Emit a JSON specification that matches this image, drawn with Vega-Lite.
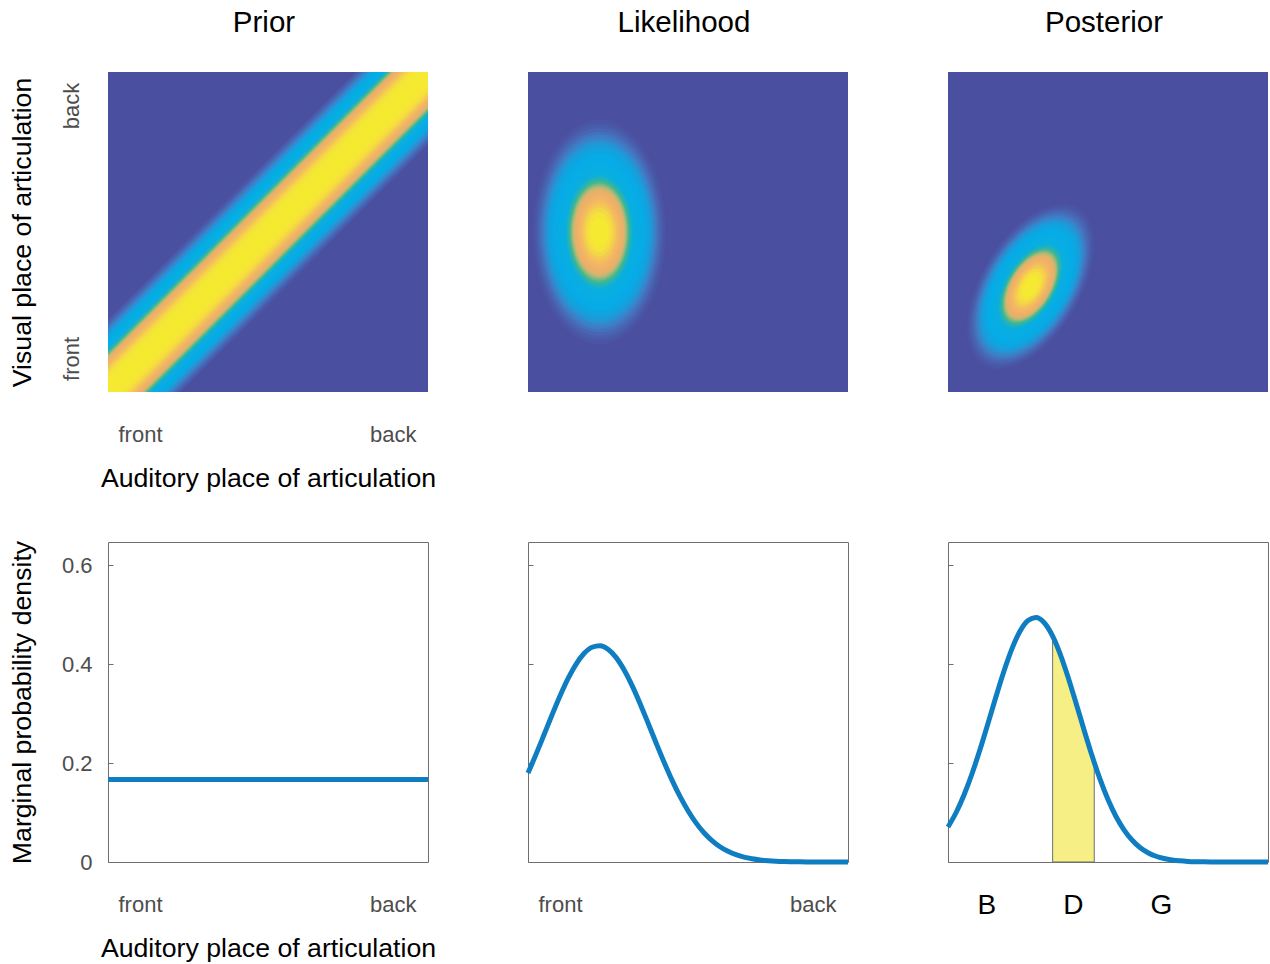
{
  "$schema": "https://vega.github.io/schema/vega-lite/v6.json",
  "background": "white",
  "padding": {"left": 8, "top": 7, "right": 0, "bottom": 0},
  "columns": 3,
  "spacing": {"row": 150, "column": 100},
  "bounds": "flush",
  "datasets": {
    "prior2d": [
      {"v": 0.045, "x": 0, "lo": -0.2375, "hi": 0.2375}, {"v": 0.045, "x": 1, "lo": 0.7625, "hi": 1.2375},
      {"v": 0.055, "x": 0, "lo": -0.231, "hi": 0.231}, {"v": 0.055, "x": 1, "lo": 0.769, "hi": 1.231},
      {"v": 0.065, "x": 0, "lo": -0.225, "hi": 0.225}, {"v": 0.065, "x": 1, "lo": 0.775, "hi": 1.225},
      {"v": 0.075, "x": 0, "lo": -0.22, "hi": 0.22}, {"v": 0.075, "x": 1, "lo": 0.78, "hi": 1.22},
      {"v": 0.085, "x": 0, "lo": -0.2155, "hi": 0.2155}, {"v": 0.085, "x": 1, "lo": 0.7845, "hi": 1.2155},
      {"v": 0.1, "x": 0, "lo": -0.209, "hi": 0.209}, {"v": 0.1, "x": 1, "lo": 0.791, "hi": 1.209},
      {"v": 0.115, "x": 0, "lo": -0.203, "hi": 0.203}, {"v": 0.115, "x": 1, "lo": 0.797, "hi": 1.203},
      {"v": 0.13, "x": 0, "lo": -0.197, "hi": 0.197}, {"v": 0.13, "x": 1, "lo": 0.803, "hi": 1.197},
      {"v": 0.15, "x": 0, "lo": -0.191, "hi": 0.191}, {"v": 0.15, "x": 1, "lo": 0.809, "hi": 1.191},
      {"v": 0.17, "x": 0, "lo": -0.185, "hi": 0.185}, {"v": 0.17, "x": 1, "lo": 0.815, "hi": 1.185},
      {"v": 0.19, "x": 0, "lo": -0.1805, "hi": 0.1805}, {"v": 0.19, "x": 1, "lo": 0.8195, "hi": 1.1805},
      {"v": 0.22, "x": 0, "lo": -0.174, "hi": 0.174}, {"v": 0.22, "x": 1, "lo": 0.826, "hi": 1.174},
      {"v": 0.25, "x": 0, "lo": -0.167, "hi": 0.167}, {"v": 0.25, "x": 1, "lo": 0.833, "hi": 1.167},
      {"v": 0.29, "x": 0, "lo": -0.16, "hi": 0.16}, {"v": 0.29, "x": 1, "lo": 0.84, "hi": 1.16},
      {"v": 0.33, "x": 0, "lo": -0.153, "hi": 0.153}, {"v": 0.33, "x": 1, "lo": 0.847, "hi": 1.153},
      {"v": 0.37, "x": 0, "lo": -0.1475, "hi": 0.1475}, {"v": 0.37, "x": 1, "lo": 0.8525, "hi": 1.1475},
      {"v": 0.41, "x": 0, "lo": -0.1425, "hi": 0.1425}, {"v": 0.41, "x": 1, "lo": 0.8575, "hi": 1.1425},
      {"v": 0.45, "x": 0, "lo": -0.1375, "hi": 0.1375}, {"v": 0.45, "x": 1, "lo": 0.8625, "hi": 1.1375},
      {"v": 0.49, "x": 0, "lo": -0.1325, "hi": 0.1325}, {"v": 0.49, "x": 1, "lo": 0.8675, "hi": 1.1325},
      {"v": 0.52, "x": 0, "lo": -0.129, "hi": 0.129}, {"v": 0.52, "x": 1, "lo": 0.871, "hi": 1.129},
      {"v": 0.55, "x": 0, "lo": -0.125, "hi": 0.125}, {"v": 0.55, "x": 1, "lo": 0.875, "hi": 1.125},
      {"v": 0.58, "x": 0, "lo": -0.12, "hi": 0.12}, {"v": 0.58, "x": 1, "lo": 0.88, "hi": 1.12},
      {"v": 0.61, "x": 0, "lo": -0.1155, "hi": 0.1155}, {"v": 0.61, "x": 1, "lo": 0.8845, "hi": 1.1155},
      {"v": 0.64, "x": 0, "lo": -0.111, "hi": 0.111}, {"v": 0.64, "x": 1, "lo": 0.889, "hi": 1.111},
      {"v": 0.67, "x": 0, "lo": -0.106, "hi": 0.106}, {"v": 0.67, "x": 1, "lo": 0.894, "hi": 1.106},
      {"v": 0.71, "x": 0, "lo": -0.1, "hi": 0.1}, {"v": 0.71, "x": 1, "lo": 0.9, "hi": 1.1},
      {"v": 0.75, "x": 0, "lo": -0.094, "hi": 0.094}, {"v": 0.75, "x": 1, "lo": 0.906, "hi": 1.094},
      {"v": 0.79, "x": 0, "lo": -0.086, "hi": 0.086}, {"v": 0.79, "x": 1, "lo": 0.914, "hi": 1.086},
      {"v": 0.83, "x": 0, "lo": -0.079, "hi": 0.079}, {"v": 0.83, "x": 1, "lo": 0.921, "hi": 1.079},
      {"v": 0.87, "x": 0, "lo": -0.07, "hi": 0.07}, {"v": 0.87, "x": 1, "lo": 0.93, "hi": 1.07},
      {"v": 0.91, "x": 0, "lo": -0.059, "hi": 0.059}, {"v": 0.91, "x": 1, "lo": 0.941, "hi": 1.059},
      {"v": 0.95, "x": 0, "lo": -0.044, "hi": 0.044}, {"v": 0.95, "x": 1, "lo": 0.956, "hi": 1.044}
    ],
    "like2d": [
      {"v": 0.045, "cx": 0.223, "cy": 0.5, "r": 0.3636},
      {"v": 0.055, "cx": 0.223, "cy": 0.5, "r": 0.3516},
      {"v": 0.065, "cx": 0.223, "cy": 0.5, "r": 0.3414},
      {"v": 0.075, "cx": 0.223, "cy": 0.5, "r": 0.3323},
      {"v": 0.085, "cx": 0.223, "cy": 0.5, "r": 0.3242},
      {"v": 0.1, "cx": 0.223, "cy": 0.5, "r": 0.3133},
      {"v": 0.115, "cx": 0.223, "cy": 0.5, "r": 0.3037},
      {"v": 0.13, "cx": 0.223, "cy": 0.5, "r": 0.2949},
      {"v": 0.15, "cx": 0.223, "cy": 0.5, "r": 0.2844},
      {"v": 0.17, "cx": 0.223, "cy": 0.5, "r": 0.2749},
      {"v": 0.19, "cx": 0.223, "cy": 0.5, "r": 0.2661},
      {"v": 0.22, "cx": 0.223, "cy": 0.5, "r": 0.2541},
      {"v": 0.25, "cx": 0.223, "cy": 0.5, "r": 0.2431},
      {"v": 0.29, "cx": 0.223, "cy": 0.5, "r": 0.2297},
      {"v": 0.33, "cx": 0.223, "cy": 0.5, "r": 0.2174},
      {"v": 0.37, "cx": 0.223, "cy": 0.5, "r": 0.2059},
      {"v": 0.41, "cx": 0.223, "cy": 0.5, "r": 0.195},
      {"v": 0.45, "cx": 0.223, "cy": 0.5, "r": 0.1845},
      {"v": 0.49, "cx": 0.223, "cy": 0.5, "r": 0.1744},
      {"v": 0.52, "cx": 0.223, "cy": 0.5, "r": 0.167},
      {"v": 0.55, "cx": 0.223, "cy": 0.5, "r": 0.1597},
      {"v": 0.58, "cx": 0.223, "cy": 0.5, "r": 0.1524},
      {"v": 0.61, "cx": 0.223, "cy": 0.5, "r": 0.1452},
      {"v": 0.64, "cx": 0.223, "cy": 0.5, "r": 0.1379},
      {"v": 0.67, "cx": 0.223, "cy": 0.5, "r": 0.1307},
      {"v": 0.71, "cx": 0.223, "cy": 0.5, "r": 0.1208},
      {"v": 0.75, "cx": 0.223, "cy": 0.5, "r": 0.1107},
      {"v": 0.79, "cx": 0.223, "cy": 0.5, "r": 0.1002},
      {"v": 0.83, "cx": 0.223, "cy": 0.5, "r": 0.0891},
      {"v": 0.87, "cx": 0.223, "cy": 0.5, "r": 0.077},
      {"v": 0.91, "cx": 0.223, "cy": 0.5, "r": 0.0634},
      {"v": 0.95, "cx": 0.223, "cy": 0.5, "r": 0.0468}
    ],
    "post2d": [
      {"v": 0.045, "cx": 0.258, "cy": 0.33, "r": 0.2964},
      {"v": 0.055, "cx": 0.258, "cy": 0.33, "r": 0.2866},
      {"v": 0.065, "cx": 0.258, "cy": 0.33, "r": 0.2782},
      {"v": 0.075, "cx": 0.258, "cy": 0.33, "r": 0.2709},
      {"v": 0.085, "cx": 0.258, "cy": 0.33, "r": 0.2642},
      {"v": 0.1, "cx": 0.258, "cy": 0.33, "r": 0.2554},
      {"v": 0.115, "cx": 0.258, "cy": 0.33, "r": 0.2475},
      {"v": 0.13, "cx": 0.258, "cy": 0.33, "r": 0.2404},
      {"v": 0.15, "cx": 0.258, "cy": 0.33, "r": 0.2318},
      {"v": 0.17, "cx": 0.258, "cy": 0.33, "r": 0.224},
      {"v": 0.19, "cx": 0.258, "cy": 0.33, "r": 0.2169},
      {"v": 0.22, "cx": 0.258, "cy": 0.33, "r": 0.2071},
      {"v": 0.25, "cx": 0.258, "cy": 0.33, "r": 0.1981},
      {"v": 0.29, "cx": 0.258, "cy": 0.33, "r": 0.1872},
      {"v": 0.33, "cx": 0.258, "cy": 0.33, "r": 0.1772},
      {"v": 0.37, "cx": 0.258, "cy": 0.33, "r": 0.1678},
      {"v": 0.41, "cx": 0.258, "cy": 0.33, "r": 0.1589},
      {"v": 0.45, "cx": 0.258, "cy": 0.33, "r": 0.1504},
      {"v": 0.49, "cx": 0.258, "cy": 0.33, "r": 0.1421},
      {"v": 0.52, "cx": 0.258, "cy": 0.33, "r": 0.1361},
      {"v": 0.55, "cx": 0.258, "cy": 0.33, "r": 0.1301},
      {"v": 0.58, "cx": 0.258, "cy": 0.33, "r": 0.1242},
      {"v": 0.61, "cx": 0.258, "cy": 0.33, "r": 0.1183},
      {"v": 0.64, "cx": 0.258, "cy": 0.33, "r": 0.1124},
      {"v": 0.67, "cx": 0.258, "cy": 0.33, "r": 0.1065},
      {"v": 0.71, "cx": 0.258, "cy": 0.33, "r": 0.0985},
      {"v": 0.75, "cx": 0.258, "cy": 0.33, "r": 0.0903},
      {"v": 0.79, "cx": 0.258, "cy": 0.33, "r": 0.0817},
      {"v": 0.83, "cx": 0.258, "cy": 0.33, "r": 0.0726},
      {"v": 0.87, "cx": 0.258, "cy": 0.33, "r": 0.0628},
      {"v": 0.91, "cx": 0.258, "cy": 0.33, "r": 0.0517},
      {"v": 0.95, "cx": 0.258, "cy": 0.33, "r": 0.0381}
    ],
    "prior1d": [
      {"x": 0, "p": 0.1667}, {"x": 1, "p": 0.1667}
    ],
    "like1d": [
      {"x": 0, "p": 0.1797}, {"x": 0.025, "p": 0.2174}, {"x": 0.05, "p": 0.257}, {"x": 0.075, "p": 0.297},
      {"x": 0.1, "p": 0.3354}, {"x": 0.125, "p": 0.3703}, {"x": 0.15, "p": 0.3994}, {"x": 0.175, "p": 0.4211},
      {"x": 0.2, "p": 0.4338}, {"x": 0.225, "p": 0.4368}, {"x": 0.25, "p": 0.4298}, {"x": 0.275, "p": 0.4134},
      {"x": 0.3, "p": 0.3885}, {"x": 0.325, "p": 0.3569}, {"x": 0.35, "p": 0.3204}, {"x": 0.375, "p": 0.2811},
      {"x": 0.4, "p": 0.241}, {"x": 0.425, "p": 0.202}, {"x": 0.45, "p": 0.1654}, {"x": 0.475, "p": 0.1324},
      {"x": 0.5, "p": 0.1036}, {"x": 0.525, "p": 0.0791}, {"x": 0.55, "p": 0.0591}, {"x": 0.575, "p": 0.0432},
      {"x": 0.6, "p": 0.0308}, {"x": 0.625, "p": 0.0215}, {"x": 0.65, "p": 0.0147}, {"x": 0.675, "p": 0.0098},
      {"x": 0.7, "p": 0.0064}, {"x": 0.725, "p": 0.004}, {"x": 0.75, "p": 0.0025}, {"x": 0.775, "p": 0.0015},
      {"x": 0.8, "p": 0.0009}, {"x": 0.85, "p": 0.0003}, {"x": 0.9, "p": 0.0001}, {"x": 0.95, "p": 0}, {"x": 1, "p": 0}
    ],
    "post1d": [
      {"x": 0, "p": 0.0708}, {"x": 0.025, "p": 0.0995}, {"x": 0.05, "p": 0.1355}, {"x": 0.075, "p": 0.1783},
      {"x": 0.1, "p": 0.2272}, {"x": 0.125, "p": 0.2801}, {"x": 0.15, "p": 0.3342}, {"x": 0.175, "p": 0.3859},
      {"x": 0.2, "p": 0.4311}, {"x": 0.225, "p": 0.4662}, {"x": 0.25, "p": 0.4878}, {"x": 0.275, "p": 0.4939},
      {"x": 0.3, "p": 0.4839}, {"x": 0.325, "p": 0.4589}, {"x": 0.327, "p": 0.4563}, {"x": 0.35, "p": 0.4211},
      {"x": 0.375, "p": 0.3739}, {"x": 0.4, "p": 0.3213}, {"x": 0.425, "p": 0.2672}, {"x": 0.45, "p": 0.215},
      {"x": 0.457, "p": 0.2011}, {"x": 0.475, "p": 0.1674}, {"x": 0.5, "p": 0.1262}, {"x": 0.525, "p": 0.092},
      {"x": 0.55, "p": 0.0649}, {"x": 0.575, "p": 0.0444}, {"x": 0.6, "p": 0.0293}, {"x": 0.625, "p": 0.0187},
      {"x": 0.65, "p": 0.0116}, {"x": 0.675, "p": 0.007}, {"x": 0.7, "p": 0.004}, {"x": 0.725, "p": 0.0023},
      {"x": 0.75, "p": 0.0012}, {"x": 0.8, "p": 0.0003}, {"x": 0.85, "p": 0.0001}, {"x": 0.9, "p": 0}, {"x": 1, "p": 0}
    ]
  },
  "concat": [
    {
      "width": 320, "height": 320,
      "title": {"text": "Prior"},
      "view": {"fill": "#4B4FA0", "stroke": null},
      "data": {"name": "prior2d"},
      "mark": {"type": "area", "clip": true, "opacity": 1},
      "encoding": {
        "x": {"field": "x", "type": "quantitative", "scale": {"domain": [0, 1], "nice": false},
              "axis": {"values": [0.1, 0.89], "labelExpr": "datum.value < 0.5 ? 'front' : 'back'", "ticks": false, "labelPadding": 32, "title": "Auditory place of articulation", "titlePadding": 20}},
        "y": {"field": "lo", "type": "quantitative", "scale": {"domain": [0, 1], "nice": false, "zero": false},
              "axis": {"values": [0.105, 0.895], "labelExpr": "datum.value < 0.5 ? 'front' : 'back'", "ticks": false, "labelAngle": -90, "labelAlign": "center", "labelBaseline": "bottom", "labelPadding": 25, "title": "Visual place of articulation", "titlePadding": 24}},
        "y2": {"field": "hi"},
        "color": {"field": "v", "type": "quantitative", "legend": null,
                  "scale": {"domain": [0, 0.045, 0.065, 0.09, 0.12, 0.15, 0.19, 0.26, 0.46, 0.52, 0.56, 0.6, 0.65, 0.72, 0.8, 0.87, 0.93, 1], "range": ["#4B4FA0", "#4B4FA0", "#4A58A8", "#476AB6", "#3D80C6", "#2793D5", "#12A3DF", "#05ACE6", "#0AAFDF", "#2DB4A8", "#4DB78C", "#9DBB7A", "#E2B26B", "#F2B068", "#F3BE5C", "#F4D646", "#F5E834", "#F6EC2C"], "interpolate": "rgb", "zero": false, "nice": false, "clamp": true}},
        "detail": {"field": "v", "type": "nominal"}
      }
    },
    {
      "width": 320, "height": 320,
      "title": {"text": "Likelihood"},
      "view": {"fill": "#4B4FA0", "stroke": null},
      "data": {"name": "like2d"},
      "mark": {"type": "point", "filled": true, "opacity": 1, "strokeWidth": 0, "clip": true,
               "shape": "M0,-1C0.3259,-1 0.59,-0.5523 0.59,0C0.59,0.5523 0.3259,1 0,1C-0.3259,1 -0.59,0.5523 -0.59,0C-0.59,-0.5523 -0.3259,-1 0,-1Z"},
      "encoding": {
        "x": {"field": "cx", "type": "quantitative", "scale": {"domain": [0, 1], "nice": false}, "axis": null},
        "y": {"field": "cy", "type": "quantitative", "scale": {"domain": [0, 1], "nice": false}, "axis": null},
        "size": {"field": "r", "type": "quantitative", "legend": null, "scale": {"type": "pow", "exponent": 2, "domain": [0, 1], "range": [0, 409600]}},
        "color": {"field": "v", "type": "quantitative", "legend": null,
                  "scale": {"domain": [0, 0.045, 0.065, 0.09, 0.12, 0.15, 0.19, 0.26, 0.46, 0.52, 0.56, 0.6, 0.65, 0.72, 0.8, 0.87, 0.93, 1], "range": ["#4B4FA0", "#4B4FA0", "#4A58A8", "#476AB6", "#3D80C6", "#2793D5", "#12A3DF", "#05ACE6", "#0AAFDF", "#2DB4A8", "#4DB78C", "#9DBB7A", "#E2B26B", "#F2B068", "#F3BE5C", "#F4D646", "#F5E834", "#F6EC2C"], "interpolate": "rgb", "zero": false, "nice": false, "clamp": true}},
        "order": {"field": "v", "type": "quantitative"}
      }
    },
    {
      "width": 320, "height": 320,
      "title": {"text": "Posterior"},
      "view": {"fill": "#4B4FA0", "stroke": null},
      "data": {"name": "post2d"},
      "mark": {"type": "point", "filled": true, "opacity": 1, "strokeWidth": 0, "clip": true, "angle": 31,
               "shape": "M0,-1C0.2982,-1 0.54,-0.5523 0.54,0C0.54,0.5523 0.2982,1 0,1C-0.2982,1 -0.54,0.5523 -0.54,0C-0.54,-0.5523 -0.2982,-1 0,-1Z"},
      "encoding": {
        "x": {"field": "cx", "type": "quantitative", "scale": {"domain": [0, 1], "nice": false}, "axis": null},
        "y": {"field": "cy", "type": "quantitative", "scale": {"domain": [0, 1], "nice": false}, "axis": null},
        "size": {"field": "r", "type": "quantitative", "legend": null, "scale": {"type": "pow", "exponent": 2, "domain": [0, 1], "range": [0, 409600]}},
        "color": {"field": "v", "type": "quantitative", "legend": null,
                  "scale": {"domain": [0, 0.045, 0.065, 0.09, 0.12, 0.15, 0.19, 0.26, 0.46, 0.52, 0.56, 0.6, 0.65, 0.72, 0.8, 0.87, 0.93, 1], "range": ["#4B4FA0", "#4B4FA0", "#4A58A8", "#476AB6", "#3D80C6", "#2793D5", "#12A3DF", "#05ACE6", "#0AAFDF", "#2DB4A8", "#4DB78C", "#9DBB7A", "#E2B26B", "#F2B068", "#F3BE5C", "#F4D646", "#F5E834", "#F6EC2C"], "interpolate": "rgb", "zero": false, "nice": false, "clamp": true}},
        "order": {"field": "v", "type": "quantitative"}
      }
    },
    {
      "width": 320, "height": 320,
      "view": {"stroke": "#6E6E6E", "strokeWidth": 1},
      "data": {"name": "prior1d"},
      "mark": {"type": "line", "color": "#0E7DC2", "strokeWidth": 5},
      "encoding": {
        "x": {"field": "x", "type": "quantitative", "scale": {"domain": [0, 1], "nice": false},
              "axis": {"values": [0.1, 0.89], "labelExpr": "datum.value < 0.5 ? 'front' : 'back'", "ticks": false, "labelPadding": 32, "title": "Auditory place of articulation", "titlePadding": 20}},
        "y": {"field": "p", "type": "quantitative", "scale": {"domain": [0, 0.6465], "nice": false},
              "axis": {"values": [0, 0.2, 0.4, 0.6], "format": ".1~f", "ticks": true, "tickSize": -5, "labelPadding": 21, "title": "Marginal probability density", "titlePadding": 25}}
      }
    },
    {
      "width": 320, "height": 320,
      "view": {"stroke": "#6E6E6E", "strokeWidth": 1},
      "data": {"name": "like1d"},
      "mark": {"type": "line", "color": "#0E7DC2", "strokeWidth": 5, "interpolate": "monotone"},
      "encoding": {
        "x": {"field": "x", "type": "quantitative", "scale": {"domain": [0, 1], "nice": false},
              "axis": {"values": [0.1, 0.89], "labelExpr": "datum.value < 0.5 ? 'front' : 'back'", "ticks": false, "labelPadding": 32, "title": null}},
        "y": {"field": "p", "type": "quantitative", "scale": {"domain": [0, 0.6465], "nice": false},
              "axis": {"values": [0, 0.2, 0.4, 0.6], "ticks": true, "tickSize": -5, "labels": false, "title": null}}
      }
    },
    {
      "width": 320, "height": 320,
      "view": {"stroke": "#6E6E6E", "strokeWidth": 1},
      "data": {"name": "post1d"},
      "encoding": {
        "x": {"field": "x", "type": "quantitative", "scale": {"domain": [0, 1], "nice": false},
              "axis": {"values": [0.12, 0.39, 0.665], "labelExpr": "datum.value < 0.2 ? 'B' : datum.value < 0.5 ? 'D' : 'G'", "ticks": false, "labelPadding": 29, "labelFontSize": 28, "labelColor": "#000000", "title": null}},
        "y": {"field": "p", "type": "quantitative", "scale": {"domain": [0, 0.6465], "nice": false},
              "axis": {"values": [0, 0.2, 0.4, 0.6], "ticks": true, "tickSize": -5, "labels": false, "title": null}}
      },
      "layer": [
        {
          "transform": [{"filter": {"field": "x", "range": [0.327, 0.457]}}],
          "mark": {"type": "area", "color": "#F6EF86", "opacity": 1, "stroke": "#6E6E6E", "strokeWidth": 1, "interpolate": "monotone"}
        },
        {
          "mark": {"type": "line", "color": "#0E7DC2", "strokeWidth": 5, "interpolate": "monotone"}
        }
      ]
    }
  ],
  "config": {
    "font": "Liberation Sans",
    "view": {"stroke": null},
    "axis": {"labelFont": "Liberation Sans", "titleFont": "Liberation Sans", "labelFontSize": 22, "titleFontSize": 26.7,
             "labelColor": "#4D4D4D", "titleColor": "#000000", "titleFontWeight": "normal", "grid": false, "domain": false,
             "tickColor": "#6E6E6E", "tickWidth": 1, "labelFlush": false, "labelOverlap": false},
    "title": {"font": "Liberation Sans", "fontSize": 29.5, "fontWeight": "normal", "color": "#000000", "offset": 34, "frame": "group", "dx": -4}
  }
}
